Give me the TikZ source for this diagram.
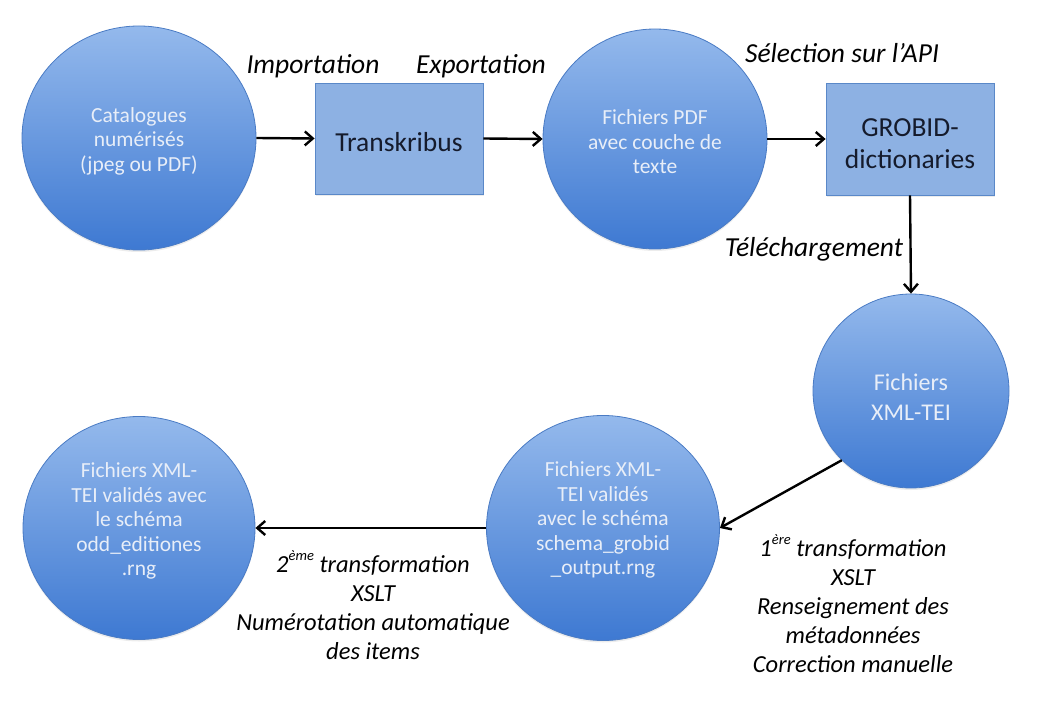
\documentclass[tikz,border=0pt]{standalone}
\usepackage{fontspec}
\setmainfont{Carlito}
\usetikzlibrary{arrows.meta,shapes.geometric,shadows}
\definecolor{ctop}{HTML}{94B9EC}
\definecolor{cbot}{HTML}{3E79D2}
\definecolor{cedge}{HTML}{4A7BC4}
\definecolor{bfill}{HTML}{8DB1E3}
\definecolor{bedge}{HTML}{5A88C8}
\definecolor{ctext}{HTML}{E8EEF8}
\definecolor{btext}{HTML}{151B2C}
\newcommand{\smallsup}[1]{\raisebox{0.5em}{\fontsize{14.5}{14.5}\selectfont\itshape #1}}
\begin{document}
\begin{tikzpicture}[x=1pt,y=-1pt,
  bubble/.style={ellipse, draw=cedge, line width=0.8pt, top color=ctop, bottom color=cbot,
    inner sep=0pt,
    drop shadow={opacity=0.15, shadow xshift=0pt, shadow yshift=-2pt}},
  bubbletext/.style={text=ctext, align=center, font=\fontsize{21.5}{24.5}\selectfont},
  procbox/.style={rectangle, draw=bedge, line width=0.8pt, fill=bfill, inner sep=0pt,
    drop shadow={opacity=0.15, shadow xshift=1pt, shadow yshift=-2pt}},
  boxtext/.style={text=btext, align=center, font=\fontsize{27.5}{32}\selectfont},
  flow/.style={-{Straight Barb[length=8pt,width=14pt]}, line width=2.4pt, black},
  lbl/.style={font=\fontsize{27.5}{30}\selectfont\itshape, align=center, inner sep=0pt},
  blocklbl/.style={font=\fontsize{24.5}{29}\selectfont\itshape, align=center, inner sep=0pt}
]
\useasboundingbox (0,0) rectangle (1038,708);

\node[bubble, minimum width=234pt, minimum height=224pt] (c1) at (139,138) {};
\node[bubbletext] (c1t) at (139,141) {Catalogues\\numérisés\\(jpeg ou PDF)};
\node[procbox, minimum width=168pt, minimum height=111pt] (t) at (399,138.5) {};
\node[boxtext] (tt) at (399,142) {Transkribus};
\node[bubble, minimum width=224pt, minimum height=220pt] (c2) at (655,139) {};
\node[bubbletext] (c2t) at (655,142) {Fichiers PDF\\avec couche de\\texte};
\node[procbox, minimum width=168pt, minimum height=112pt] (g) at (910,139) {};
\node[boxtext] (gt) at (910,144) {GROBID-\\dictionaries};
\node[bubble, minimum width=196pt, minimum height=194pt] (c3) at (911,391) {};
\node[bubbletext, font=\fontsize{24}{30}\selectfont] (c3t) at (911,397) {Fichiers\\XML-TEI};
\node[bubble, minimum width=233pt, minimum height=225pt] (c4) at (603,528) {};
\node[bubbletext] (c4t) at (603,520)
  {Fichiers XML-\\TEI validés\\avec le schéma\\schema\_grobid\\\_output.rng};
\node[bubble, minimum width=232pt, minimum height=223pt] (c5) at (139,528) {};
\node[bubbletext] (c5t) at (139,521)
  {Fichiers XML-\\TEI validés avec\\le schéma\\odd\_editiones\\.rng};

\draw[flow] (c1.east) -- (t.west);
\draw[flow] (t.east) -- (c2.west);
\draw[flow] (c2.east) -- (g.west);
\draw[flow] (g.south) -- (c3.north);
\draw[flow] (c3.225) -- (c4.east);
\draw[flow] (c4.west) -- (c5.east);

\node[lbl] (l1) at (313,66) {Importation};
\node[lbl] (l2) at (481,66) {Exportation};
\node[lbl] (l3) at (842,53) {Sélection sur l’API};
\node[lbl] (l4) at (814,249) {Téléchargement};
\node[blocklbl] (l5) at (853,604) {1\smallsup{ère} transformation\\XSLT\\Renseignement des\\métadonnées\\Correction manuelle};
\node[blocklbl] (l6) at (373,605) {2\smallsup{ème} transformation\\XSLT\\Numérotation automatique\\des items};
\end{tikzpicture}
\end{document}
